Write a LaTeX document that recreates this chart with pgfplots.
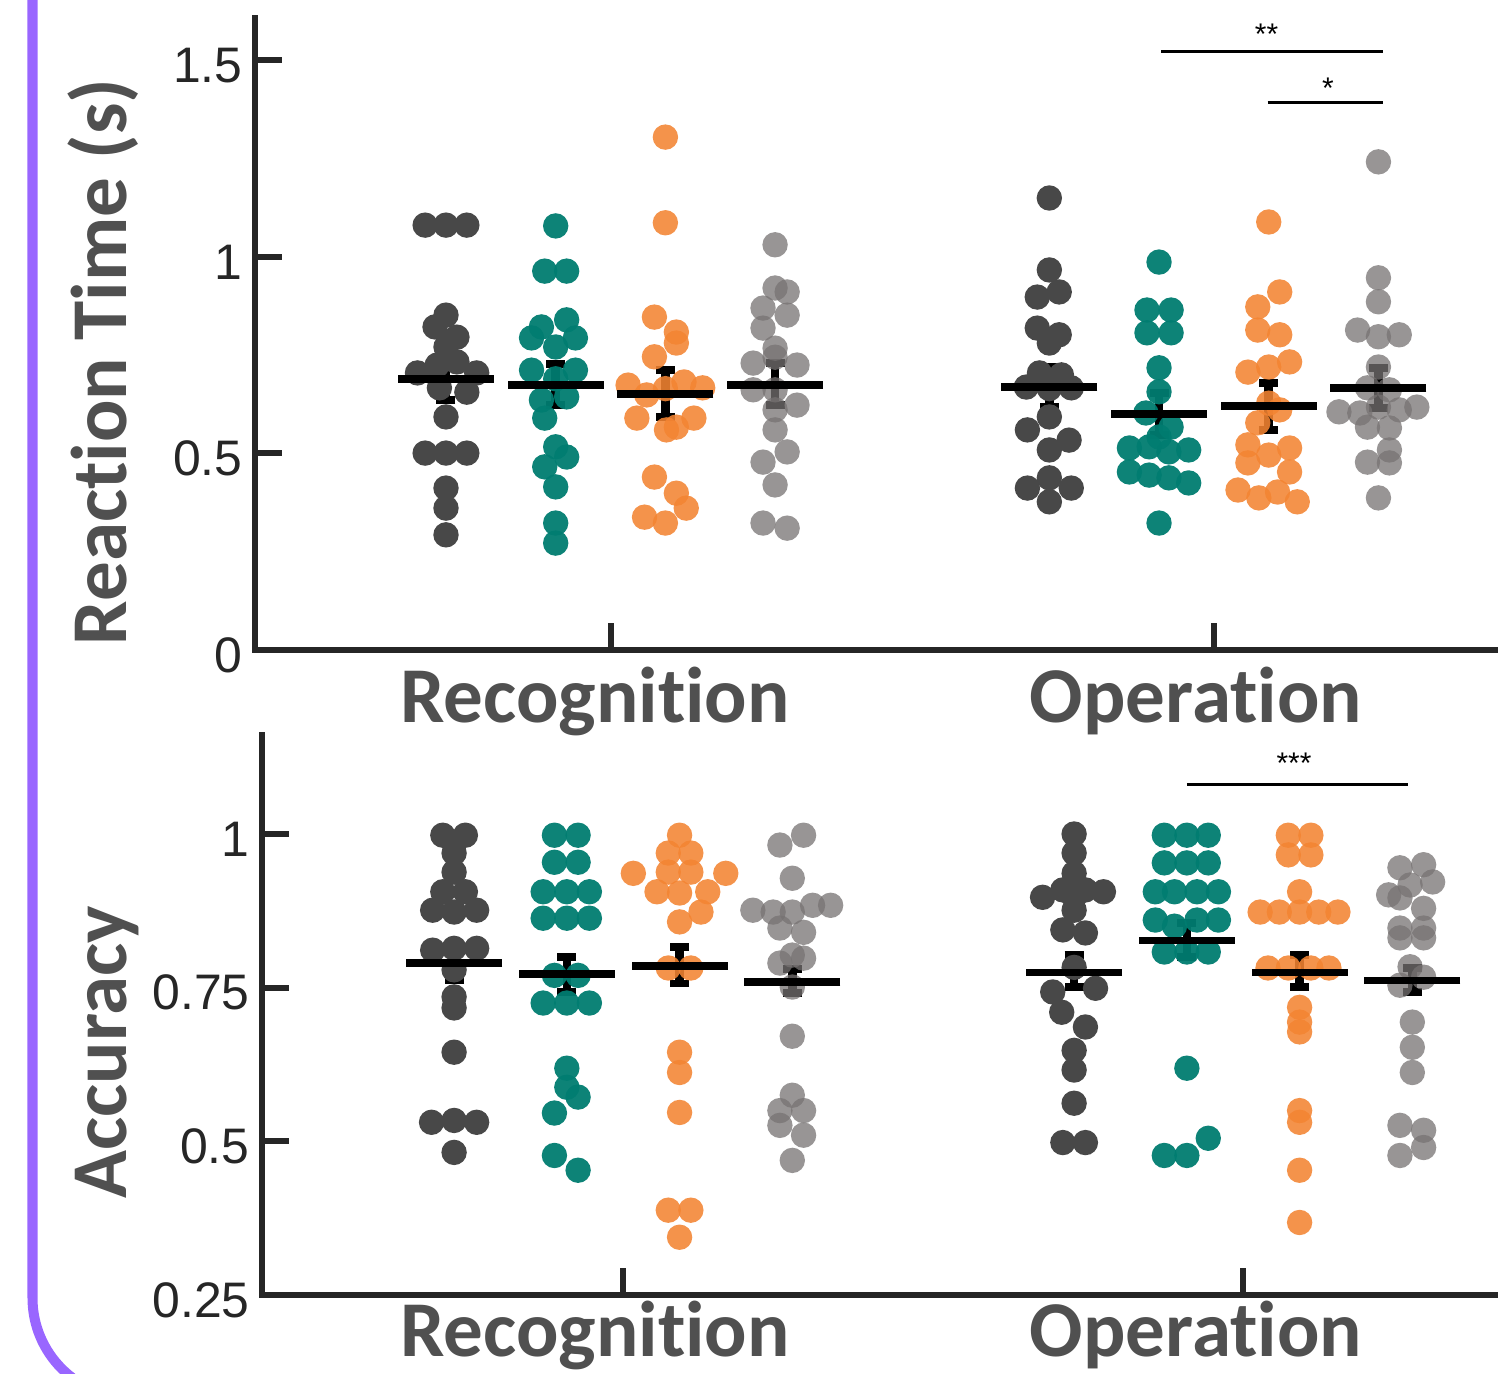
\documentclass[border=0pt]{standalone}
\usepackage{pgfplots}
\pgfplotsset{compat=1.18}
\usepackage{pgfplotstable}
\usepackage{fontspec}
\setmainfont{Liberation Sans}
\newfontfamily\carlito{Carlito}[Ligatures=NoCommon]
\newcommand\labfont{\carlito\bfseries\fontsize{22.5pt}{27pt}\selectfont}
\newcommand\tickfont{\fontsize{14.2pt}{17pt}\selectfont}
\newcommand\starfont{\fontsize{8.5pt}{10pt}\selectfont}

\definecolor{cDark}{RGB}{72,72,72}
\definecolor{cTeal}{RGB}{0,124,112}
\definecolor{cOrange}{RGB}{243,132,50}
\definecolor{cGray}{RGB}{118,114,114}
\definecolor{axC}{RGB}{38,38,38}
\definecolor{labC}{RGB}{80,80,80}
\definecolor{purpC}{RGB}{153,102,255}

% ---------------- Reaction time ----------------
\pgfplotstableread{
x y
0.81 1.081
1.00 1.081
1.19 1.081
1.00 0.852
0.90 0.822
1.10 0.796
1.00 0.771
0.74 0.705
1.28 0.705
0.92 0.725
1.10 0.733
1.19 0.656
0.94 0.667
1.00 0.593
0.81 0.501
1.00 0.501
1.19 0.501
1.00 0.412
1.00 0.361
1.00 0.293
6.50 1.150
6.50 0.967
6.59 0.911
6.39 0.898
6.39 0.819
6.59 0.802
6.50 0.781
6.41 0.705
6.61 0.700
6.29 0.669
6.70 0.667
6.50 0.665
6.50 0.593
6.30 0.560
6.68 0.534
6.50 0.509
6.30 0.412
6.50 0.438
6.70 0.412
6.50 0.377
}\rtDark
\pgfplotstableread{
x y
2.00 1.079
1.90 0.964
2.10 0.964
2.10 0.840
1.87 0.822
1.78 0.794
2.18 0.794
2.00 0.771
1.78 0.712
2.18 0.712
2.00 0.690
2.10 0.644
1.87 0.636
1.90 0.590
2.00 0.517
2.10 0.491
1.90 0.466
2.00 0.415
2.00 0.323
2.00 0.272
7.50 0.987
7.39 0.865
7.61 0.865
7.39 0.807
7.61 0.807
7.50 0.718
7.50 0.657
7.38 0.603
7.61 0.567
7.50 0.542
7.23 0.514
7.41 0.517
7.59 0.504
7.77 0.509
7.23 0.453
7.41 0.445
7.59 0.438
7.77 0.425
7.50 0.323
}\rtTeal
\pgfplotstableread{
x y
3.00 1.305
3.00 1.087
2.90 0.847
3.10 0.809
3.10 0.781
2.90 0.746
2.66 0.674
3.17 0.682
3.34 0.667
2.83 0.649
3.00 0.665
2.74 0.590
3.26 0.590
3.01 0.560
3.10 0.567
2.90 0.440
3.10 0.399
3.19 0.361
2.81 0.338
3.00 0.323
8.50 1.089
8.60 0.911
8.40 0.873
8.40 0.814
8.60 0.802
8.31 0.707
8.50 0.720
8.69 0.733
8.60 0.611
8.50 0.628
8.40 0.578
8.31 0.522
8.50 0.496
8.69 0.514
8.31 0.476
8.69 0.453
8.22 0.407
8.41 0.387
8.58 0.402
8.76 0.377
}\rtOrange
\pgfplotstableread{
x y
4.00 1.031
4.00 0.921
4.11 0.911
3.89 0.870
4.11 0.852
3.89 0.819
4.00 0.768
4.00 0.745
3.80 0.730
4.20 0.725
3.80 0.662
4.00 0.662
4.20 0.623
4.00 0.611
4.00 0.560
4.11 0.504
3.89 0.478
4.00 0.420
3.89 0.323
4.11 0.310
9.50 1.242
9.50 0.947
9.50 0.886
9.31 0.814
9.50 0.797
9.69 0.802
9.50 0.720
9.40 0.667
9.60 0.662
9.14 0.606
9.33 0.603
9.50 0.618
9.69 0.611
9.85 0.618
9.40 0.567
9.60 0.565
9.60 0.509
9.40 0.478
9.60 0.476
9.50 0.387
}\rtGray
\pgfplotstableread{
x m ep em
1   0.690 0.056 0.054
2   0.674 0.054 0.051
3   0.651 0.061 0.058
4   0.674 0.056 0.051
6.5 0.669 0.051 0.051
7.5 0.601 0.053 0.054
8.5 0.621 0.058 0.061
9.5 0.667 0.051 0.051
}\rtMean

% ---------------- Accuracy ----------------
\pgfplotstableread{
x y
0.90 0.998
1.10 0.998
1.00 0.969
1.00 0.938
0.90 0.906
1.10 0.906
0.81 0.876
1.00 0.873
1.20 0.876
0.81 0.811
1.00 0.814
1.20 0.814
1.00 0.779
1.00 0.735
1.00 0.717
1.00 0.645
0.80 0.531
1.00 0.534
1.20 0.531
1.00 0.482
6.50 1.000
6.50 0.969
6.50 0.936
6.22 0.897
6.40 0.909
6.60 0.909
6.76 0.906
6.50 0.897
6.50 0.876
6.40 0.844
6.60 0.839
6.50 0.783
6.31 0.743
6.69 0.749
6.39 0.710
6.60 0.686
6.50 0.648
6.50 0.616
6.50 0.562
6.40 0.498
6.60 0.498
}\acDark
\pgfplotstableread{
x y
1.89 0.998
2.10 0.998
1.89 0.954
2.10 0.954
1.79 0.906
2.00 0.906
2.20 0.906
1.79 0.863
2.00 0.863
2.20 0.863
1.89 0.770
2.10 0.770
1.79 0.725
2.00 0.725
2.20 0.725
2.00 0.619
2.00 0.588
2.10 0.572
1.89 0.546
1.89 0.477
2.10 0.453
7.30 0.998
7.50 0.998
7.69 0.998
7.30 0.953
7.50 0.953
7.69 0.953
7.22 0.906
7.39 0.906
7.59 0.906
7.78 0.906
7.22 0.860
7.39 0.850
7.59 0.860
7.78 0.860
7.30 0.808
7.50 0.808
7.69 0.808
7.50 0.619
7.69 0.505
7.30 0.477
7.50 0.477
}\acTeal
\pgfplotstableread{
x y
3.00 0.998
2.90 0.969
3.10 0.969
2.59 0.936
2.90 0.938
3.10 0.938
3.41 0.936
2.80 0.906
3.00 0.904
3.25 0.906
3.19 0.873
3.00 0.857
2.90 0.782
3.10 0.782
3.00 0.645
3.00 0.612
3.00 0.547
2.90 0.388
3.10 0.388
3.00 0.344
8.40 0.998
8.60 0.998
8.40 0.966
8.60 0.966
8.50 0.906
8.15 0.873
8.32 0.873
8.50 0.873
8.67 0.873
8.84 0.873
8.22 0.782
8.40 0.782
8.60 0.782
8.76 0.782
8.50 0.718
8.50 0.694
8.50 0.678
8.50 0.550
8.50 0.531
8.50 0.453
8.50 0.368
}\acOrange
\pgfplotstableread{
x y
3.89 0.982
4.10 0.998
4.00 0.928
3.65 0.876
3.83 0.873
4.00 0.873
4.18 0.884
4.34 0.884
3.89 0.847
4.10 0.840
4.00 0.803
3.89 0.790
4.10 0.798
4.00 0.751
4.00 0.671
4.00 0.575
3.89 0.550
4.10 0.550
3.89 0.526
4.10 0.510
4.00 0.469
9.39 0.945
9.60 0.950
9.68 0.922
9.48 0.917
9.29 0.901
9.39 0.896
9.60 0.879
9.39 0.847
9.60 0.847
9.39 0.831
9.60 0.831
9.48 0.784
9.39 0.754
9.60 0.767
9.50 0.694
9.50 0.653
9.50 0.612
9.39 0.526
9.60 0.518
9.60 0.490
9.39 0.477
}\acGray
\pgfplotstableread{
x m ep em
1   0.790 0.026 0.028
2   0.772 0.028 0.029
3   0.785 0.031 0.028
4   0.759 0.021 0.018
6.5 0.775 0.028 0.024
7.5 0.827 0.028 0.027
8.5 0.775 0.028 0.024
9.5 0.762 0.020 0.019
}\acMean

\pgfplotsset{
  myax/.style={
    scale only axis,
    axis x line=bottom, axis y line=left,
    axis line style={-, line width=0.06cm, draw=axC, line cap=rect},
    tick align=inside,
    major tick length=0.27cm,
    tick style={line width=0.06cm, draw=axC},
    xtick={2.5,8}, xticklabels={},
    yticklabel style={font=\tickfont, text=axC, yshift=-0.05cm},
    /pgf/number format/assume math mode=true,
    clip=false,
  },
  dots/.style 2 args={only marks, mark=*, mark size=0.127cm,
    color=#1,
    mark options={draw=#1, draw opacity=0, line width=0pt, fill=#1, fill opacity=#2}},
  meanline/.style={only marks, black, mark=-, mark size=0.48cm,
    mark options={line width=0.075cm, solid, black}},
  errbar/.style={black, mark=none, draw=none,
    error bars/y dir=both, error bars/y explicit,
    error bars/error bar style={line width=0.085cm, black, solid, draw opacity=1},
    error bars/error mark=-,
    error bars/error mark options={rotate=90, mark size=0.095cm, line width=0.075cm, black, draw opacity=1}},
}

\begin{document}
\begin{tikzpicture}
\path[use as bounding box] (0,0) rectangle (14.98,13.73);
\draw[line width=0.1cm, draw=purpC, rounded corners=1cm] (0.325,14.2) -- (0.325,-0.25) -- (4,-0.25);

% ---- top panel: reaction time ----
\begin{axis}[myax, at={(2.55cm,7.23cm)}, anchor=south west,
  width=12.43cm, height=6.32cm,
  xmin=-0.741, xmax=10.59, ymin=0, ymax=1.608,
  ytick={0,0.5,1,1.5}]
\addplot[dots={cDark}{1}] table[x=x,y=y] {\rtDark};
\addplot[dots={cTeal}{0.95}] table[x=x,y=y] {\rtTeal};
\addplot[dots={cOrange}{0.88}] table[x=x,y=y] {\rtOrange};
\addplot[dots={cGray}{0.75}] table[x=x,y=y] {\rtGray};
\addplot[errbar] table[x=x, y=m, y error plus=ep, y error minus=em] {\rtMean};
\addplot[meanline] table[x=x, y=m] {\rtMean};
\draw[line width=0.03cm, black] (axis cs:7.52,1.522) -- (axis cs:9.54,1.522);
\draw[line width=0.03cm, black] (axis cs:8.49,1.394) -- (axis cs:9.54,1.394);
\node[anchor=base, font=\starfont, inner sep=0pt] at (axis cs:8.48,1.540) {**};
\node[anchor=base, font=\starfont, inner sep=0pt] at (axis cs:9.04,1.402) {*};
\end{axis}

% ---- bottom panel: accuracy ----
\begin{axis}[myax, at={(2.62cm,0.78cm)}, anchor=south west,
  width=12.36cm, height=5.60cm,
  xmin=-0.704, xmax=10.26, ymin=0.25, ymax=1.161,
  ytick={0.25,0.5,0.75,1}]
\addplot[dots={cDark}{1}] table[x=x,y=y] {\acDark};
\addplot[dots={cTeal}{0.95}] table[x=x,y=y] {\acTeal};
\addplot[dots={cOrange}{0.88}] table[x=x,y=y] {\acOrange};
\addplot[dots={cGray}{0.75}] table[x=x,y=y] {\acGray};
\addplot[errbar] table[x=x, y=m, y error plus=ep, y error minus=em] {\acMean};
\addplot[meanline] table[x=x, y=m] {\acMean};
\draw[line width=0.03cm, black] (axis cs:7.50,1.080) -- (axis cs:9.46,1.080);
\node[anchor=base, font=\starfont, inner sep=0pt] at (axis cs:8.45,1.098) {***};
\end{axis}

% ---- labels ----
\node[rotate=90, anchor=base, font=\labfont, text=labC, inner sep=0pt] at (1.26,10.11) {Reaction Time (s)};
\node[rotate=90, anchor=base, font=\labfont, text=labC, inner sep=0pt] at (1.26,3.21) {Accuracy};
\node[anchor=base, font=\labfont, text=labC, inner sep=0pt] at (5.95,6.51) {Recognition};
\node[anchor=base, font=\labfont, text=labC, inner sep=0pt] at (11.96,6.51) {Operation};
\node[anchor=base, font=\labfont, text=labC, inner sep=0pt] at (5.95,0.17) {Recognition};
\node[anchor=base, font=\labfont, text=labC, inner sep=0pt] at (11.96,0.17) {Operation};
\end{tikzpicture}
\end{document}
